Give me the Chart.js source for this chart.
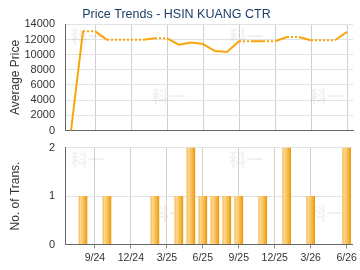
<!DOCTYPE html>
<html>
<head>
<meta charset="utf-8">
<script src="https://cdn.jsdelivr.net/npm/chart.js@4.4.0/dist/chart.umd.min.js"></script>
<style>
  html, body { margin: 0; padding: 0; background: #fff; }
  #wrap { position: relative; width: 360px; height: 270px; }
  #priceChart { position: absolute; left: 0; top: 0; }
  #transChart { position: absolute; left: 0; top: 140px; }
</style>
</head>
<body>
<div id="wrap">
  <canvas id="priceChart" width="360" height="140"></canvas>
  <canvas id="transChart" width="360" height="130"></canvas>
</div>
<script>
// months shown on the x axis (one point / bar per month)
const months = [
  '7/24', '8/24', '9/24', '10/24', '11/24', '12/24',
  '1/25', '2/25', '3/25', '4/25', '5/25', '6/25',
  '7/25', '8/25', '9/25', '10/25', '11/25', '12/25',
  '1/26', '2/26', '3/26', '4/26', '5/26', '6/26'];

// average price per month (months without deals carry the last value)
const avgPrice = [
  0, 13100, 13100, 11950, 11950, 11950,
  11950, 12150, 12150, 11320, 11590, 11400,
  10480, 10350, 11760, 11760, 11760, 11760,
  12330, 12330, 11900, 11900, 11900, 13000];

// number of transactions per month
const numTrans = [
  0, 1, 0, 1, 0, 0,
  0, 1, 0, 1, 2, 1,
  1, 1, 1, 0, 1, 0,
  2, 0, 1, 0, 0, 2];

// only quarter months get a label and a grid line
const quarterLabels = ['9/24', '12/24', '3/25', '6/25', '9/25', '12/25', '3/26', '6/26'];

const fontFamily = "'Liberation Sans', Arial, sans-serif";
const textColor = '#333';
const axisColor = '#666';

function isQuarter(i) {
  return quarterLabels.includes(months[i]);
}

function vGridColor(c) {
  return isQuarter(c.index) ? '#d0d0d0' : 'rgba(0,0,0,0)';
}

function tickColor(c) {
  return isQuarter(c.index) ? '#888' : 'rgba(0,0,0,0)';
}

// horizontal gradient for each bar, taken from the x scale position
function barFill(c) {
  const chart = c.chart;
  const xs = chart.scales.x;
  if (!xs || c.dataIndex === undefined) return '#f5b23c';
  const x = xs.getPixelForValue(c.dataIndex);
  if (!isFinite(x)) return '#f5b23c';
  const half = 4.4;
  const g = chart.ctx.createLinearGradient(x - half, 0, x + half, 0);
  g.addColorStop(0, '#f0ae40');
  g.addColorStop(0.2, '#fdd88e');
  g.addColorStop(0.5, '#fac462');
  g.addColorStop(0.85, '#f2a623');
  g.addColorStop(1, '#e39200');
  return g;
}

// faint "科一" watermark behind the plot, two rows of two
const watermark = {
  id: 'watermark',
  beforeDatasetsDraw(chart) {
    const {ctx, chartArea: a} = chart;
    const w = a.right - a.left, h = a.bottom - a.top;
    const spots = [[0.08, 0.12], [0.63, 0.12], [0.36, 0.68], [0.91, 0.68]];
    ctx.save();
    ctx.beginPath();
    ctx.rect(a.left, a.top, w, h);
    ctx.clip();
    ctx.fillStyle = 'rgba(0,0,0,0.055)';
    ctx.font = "bold 17px 'Noto Sans CJK TC'";
    ctx.textAlign = 'center';
    ctx.textBaseline = 'middle';
    for (const [fx, fy] of spots) {
      ctx.fillText('科一', a.left + fx * w, a.top + fy * h);
    }
    ctx.restore();
  }
};

// y ticks: label gap done with an invisible tick mark, so the
// chart area is not pushed in by the tick padding
const yGrid = { color: '#e2e2e2', drawTicks: true, tickLength: 10, tickColor: 'rgba(0,0,0,0)' };

new Chart(document.getElementById('priceChart'), {
  type: 'line',
  data: {
    labels: months,
    datasets: [{
      data: avgPrice,
      borderColor: '#fba50c',
      borderWidth: 2,
      pointRadius: 0,
      tension: 0,
      segment: {
        // dotted into a month that had no deals
        borderDash: c => numTrans[c.p1DataIndex] > 0 ? undefined : [2, 2]
      }
    }]
  },
  options: {
    responsive: false,
    animation: false,
    layout: { padding: { left: 0, right: 7, top: 0, bottom: 0 } },
    plugins: {
      legend: { display: false },
      tooltip: { enabled: false },
      title: {
        display: true,
        text: 'Price Trends - HSIN KUANG CTR',
        color: '#1d3f66',
        padding: { top: 7.5, bottom: 1.8 },
        font: { size: 12.5, weight: 'normal', family: fontFamily }
      }
    },
    scales: {
      x: {
        offset: true,
        afterFit: s => { s.height = 9.5; },
        border: { color: axisColor, width: 1 },
        grid: { offset: false, color: vGridColor, drawTicks: false },
        ticks: { display: false, autoSkip: false }
      },
      y: {
        min: 0,
        max: 14000,
        afterFit: s => { s.width = 65; },
        border: { color: axisColor, width: 1 },
        grid: yGrid,
        ticks: {
          stepSize: 2000,
          autoSkip: false,
          padding: 0,
          color: textColor,
          font: { size: 11, family: fontFamily },
          callback: v => String(v)
        },
        title: {
          display: true,
          text: 'Average Price',
          color: textColor,
          padding: { top: 8, bottom: 0 },
          font: { size: 12, family: fontFamily }
        }
      }
    }
  },
  plugins: [watermark]
});

new Chart(document.getElementById('transChart'), {
  type: 'bar',
  data: {
    labels: months,
    datasets: [{
      data: numTrans,
      backgroundColor: barFill,
      borderWidth: 0,
      barPercentage: 0.72,
      categoryPercentage: 1
    }]
  },
  options: {
    responsive: false,
    animation: false,
    layout: { padding: { left: 0, right: 7, top: 7.5, bottom: 0 } },
    plugins: {
      legend: { display: false },
      tooltip: { enabled: false }
    },
    scales: {
      x: {
        offset: true,
        afterFit: s => { s.height = 25.5; },
        border: { color: axisColor, width: 1 },
        grid: { offset: false, color: vGridColor, tickColor: tickColor, tickLength: 4 },
        ticks: {
          autoSkip: false,
          maxRotation: 0,
          padding: 3,
          color: textColor,
          font: { size: 10.5, family: fontFamily },
          callback: (v, i) => isQuarter(i) ? months[i] : ''
        }
      },
      y: {
        min: 0,
        max: 2,
        afterFit: s => { s.width = 65; },
        border: { color: axisColor, width: 1 },
        grid: yGrid,
        ticks: {
          stepSize: 1,
          autoSkip: false,
          padding: 0,
          color: textColor,
          font: { size: 11, family: fontFamily }
        },
        title: {
          display: true,
          text: 'No. of Trans.',
          color: textColor,
          padding: { top: 8, bottom: 0 },
          font: { size: 12, family: fontFamily }
        }
      }
    }
  },
  plugins: [watermark]
});
</script>
</body>
</html>
